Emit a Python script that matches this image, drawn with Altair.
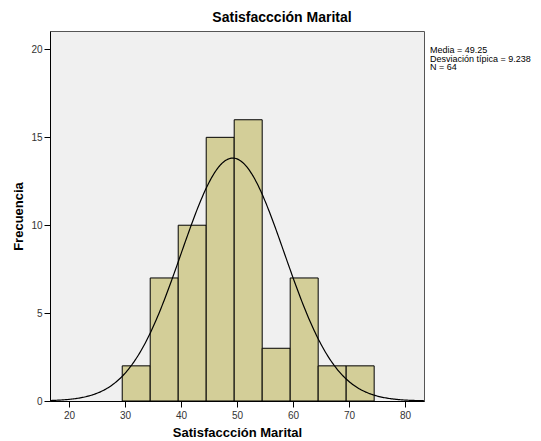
import altair as alt
import pandas as pd

# Histogram bins (start, end) and counts
bin_start = [29.5, 34.5, 39.5, 44.5, 49.5, 54.5, 59.5, 64.5, 69.5]
bin_end = [34.5, 39.5, 44.5, 49.5, 54.5, 59.5, 64.5, 69.5, 74.5]
counts = [2, 7, 10, 15, 16, 3, 7, 2, 2]

mean = 49.25
sd = 9.238
n = 64
bin_width = 5

x_ticks = [20, 30, 40, 50, 60, 70, 80]
y_ticks = [0, 5, 10, 15, 20]
x_domain = [16.6, 83.4]
y_domain = [0, 21.05]

stats_lines = ["Media = 49.25", "Desviación típica = 9.238", "N = 64"]

FONT = "Liberation Sans"

bars_df = pd.DataFrame({"start": bin_start, "end": bin_end, "count": counts})

xscale = alt.Scale(domain=x_domain, nice=False, zero=False)
yscale = alt.Scale(domain=y_domain, nice=False, zero=True)

xaxis = alt.Axis(values=x_ticks, title="Satisfaccción Marital", grid=False,
                 domainColor="#000000", tickColor="#000000", tickSize=6,
                 labelFont=FONT, labelFontSize=10, labelColor="#333333",
                 titleFont=FONT, titleFontSize=13, titleFontWeight="bold",
                 titleColor="#000000", titlePadding=6, labelPadding=3)
yaxis = alt.Axis(values=y_ticks, title="Frecuencia", grid=False,
                 domainColor="#000000", tickColor="#000000", tickSize=6,
                 labelFont=FONT, labelFontSize=10, labelColor="#333333",
                 titleFont=FONT, titleFontSize=13, titleFontWeight="bold",
                 titleColor="#000000", titlePadding=5, labelPadding=2)

bars = alt.Chart(bars_df).mark_rect(
    color="#D3CE98", stroke="#000000", strokeWidth=1
).encode(
    x=alt.X("start:Q", scale=xscale, axis=xaxis),
    x2="end:Q",
    y=alt.Y("count:Q", scale=yscale, axis=yaxis),
    y2=alt.datum(0),
)

curve = alt.Chart(alt.sequence(16.6, 83.45, 0.2, as_="x")).transform_calculate(
    y=f"{n * bin_width} * exp(-0.5 * pow((datum.x - {mean}) / {sd}, 2)) / ({sd} * sqrt(2 * PI))"
).mark_line(color="#000000", strokeWidth=1.2).encode(
    x=alt.X("x:Q", scale=xscale),
    y=alt.Y("y:Q", scale=yscale),
)

stats_df = pd.DataFrame({"t": ["\n".join(stats_lines)]})
stats = alt.Chart(stats_df).mark_text(
    align="left", baseline="top", font=FONT, fontSize=9, color="#000000",
    lineBreak="\n", lineHeight=8.5
).encode(
    x=alt.value(380), y=alt.value(15), text="t:N"
)

chart = alt.layer(bars, curve, stats).properties(
    width=374, height=370,
    title=alt.TitleParams("Satisfaccción Marital", font=FONT, fontSize=14,
                          fontWeight="bold", color="#000000", anchor="middle",
                          dx=45, offset=6),
    background="#FFFFFF",
    padding={"left": 42, "top": 23, "right": 109, "bottom": 45},
    autosize=alt.AutoSizeParams(type="none"),
).configure_view(
    fill="#F0F0F0", stroke="#555555", strokeWidth=1
)

chart.save("out.html", embed_options={"renderer": "svg", "actions": False})
